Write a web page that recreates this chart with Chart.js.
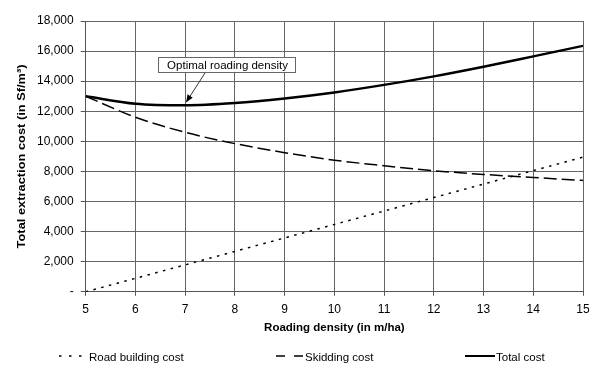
<!DOCTYPE html>
<html lang="en">
<head>
  <meta charset="UTF-8" />
  <title>Roading density</title>
  <style>
    * { box-sizing: border-box; margin: 0; padding: 0; }
    html, body { width: 600px; height: 368px; background: #fff; }
    #wrap { width: 600px; height: 368px; }
  </style>
  <script src="https://cdn.jsdelivr.net/npm/chart.js@4/dist/chart.umd.min.js"></script>
</head>
<body>
  <div id="wrap"><canvas id="chart"></canvas></div>
  <script>
    // roading density (m/ha)
    const density = [5, 6, 7, 8, 9, 10, 11, 12, 13, 14, 15];
    const roadCost = [0, 895, 1790, 2685, 3580, 4475, 5370, 6265, 7160, 8055, 8950];
    const skidCost = [13000, 11600, 10600, 9850, 9250, 8750, 8380, 8050, 7800, 7600, 7400];
    const totalCost = [13000, 12500, 12400, 12550, 12850, 13250, 13750, 14320, 14960, 15650, 16350];
    const yTicks = [0, 2000, 4000, 6000, 8000, 10000, 12000, 14000, 16000, 18000];
    const optimum = { x: 7, y: 12400, label: 'Optimal roading density' };
    const yTitle = 'Total extraction cost (in Sf/m³)';

    const FONT = 'Liberation Sans, Arial, sans-serif';
    Chart.defaults.font.family = FONT;
    Chart.defaults.color = '#000';

    const pts = arr => arr.map((v, i) => ({ x: density[i], y: v }));

    // callout box + arrow
    const callout = {
      id: 'callout',
      afterDatasetsDraw(chart) {
        const { ctx, scales } = chart;
        const tx = scales.x.getPixelForValue(optimum.x);
        const ty = scales.y.getPixelForValue(optimum.y);
        ctx.save();
        ctx.font = '11.5px ' + FONT;
        const bx = 158, by = 57, bw = 137, bh = 15;
        ctx.fillStyle = '#fff';
        ctx.fillRect(bx, by, bw, bh);
        ctx.strokeStyle = '#666';
        ctx.lineWidth = 1;
        ctx.strokeRect(bx + 0.5, by + 0.5, bw, bh);
        ctx.fillStyle = '#000';
        ctx.textBaseline = 'middle';
        ctx.textAlign = 'center';
        ctx.fillText(optimum.label, bx + bw / 2 + 1, by + bh / 2 + 1);
        // arrow
        const sx = 205, sy = by + bh + 1;
        const ex = tx + 1, ey = ty - 3;
        ctx.strokeStyle = '#333';
        ctx.beginPath();
        ctx.moveTo(sx, sy);
        ctx.lineTo(ex, ey);
        ctx.stroke();
        const ang = Math.atan2(ey - sy, ex - sx);
        ctx.fillStyle = '#000';
        ctx.beginPath();
        ctx.moveTo(ex, ey);
        ctx.lineTo(ex - 8 * Math.cos(ang - 0.4), ey - 8 * Math.sin(ang - 0.4));
        ctx.lineTo(ex - 8 * Math.cos(ang + 0.4), ey - 8 * Math.sin(ang + 0.4));
        ctx.closePath();
        ctx.fill();
        ctx.restore();
      }
    };

    // y title, stretched along its length like the original
    const stretchedTitle = {
      id: 'stretchedTitle',
      afterDraw(chart) {
        const { ctx, chartArea } = chart;
        ctx.save();
        ctx.font = 'bold 11px ' + FONT;
        const w = ctx.measureText(yTitle).width;
        ctx.translate(22, (chartArea.top + chartArea.bottom) / 2);
        ctx.rotate(-Math.PI / 2);
        ctx.scale(184 / w, 1);
        ctx.textAlign = 'center';
        ctx.textBaseline = 'middle';
        ctx.fillStyle = '#000';
        ctx.fillText(yTitle, 0, 0);
        ctx.restore();
      }
    };

    // legend spread across the bottom
    const legendSlots = [
      { x: 59, len: 23, text: 89, dash: [2.5, 7.5] },
      { x: 276, len: 27, text: 305, dash: [9, 9] },
      { x: 465, len: 30, text: 496, dash: [] }
    ];
    const spreadLegend = {
      id: 'spreadLegend',
      afterDraw(chart) {
        const { ctx } = chart;
        const y = 358;
        ctx.save();
        ctx.font = '11.5px ' + FONT;
        ctx.textBaseline = 'middle';
        chart.data.datasets.forEach((ds, i) => {
          const s = legendSlots[i];
          ctx.strokeStyle = '#000';
          ctx.lineWidth = i === 2 ? 2 : 1.5;
          ctx.setLineDash(s.dash);
          ctx.beginPath();
          ctx.moveTo(s.x, y - 2);
          ctx.lineTo(s.x + s.len, y - 2);
          ctx.stroke();
          ctx.setLineDash([]);
          ctx.fillStyle = '#000';
          ctx.fillText(ds.label, s.text, y);
        });
        ctx.restore();
      }
    };

    new Chart(document.getElementById('chart'), {
      type: 'line',
      data: {
        datasets: [
          { label: 'Road building cost', data: pts(roadCost), borderColor: '#000', backgroundColor: 'transparent',
            borderWidth: 1.5, borderDash: [2.5, 5.5], pointRadius: 0 },
          { label: 'Skidding cost', data: pts(skidCost), borderColor: '#000', backgroundColor: 'transparent',
            borderWidth: 1.5, borderDash: [13, 5], pointRadius: 0, cubicInterpolationMode: 'monotone' },
          { label: 'Total cost', data: pts(totalCost), borderColor: '#000', backgroundColor: 'transparent',
            borderWidth: 2.4, pointRadius: 0, cubicInterpolationMode: 'monotone' }
        ]
      },
      options: {
        animation: false,
        responsive: true,
        maintainAspectRatio: false,
        layout: { padding: { left: 30, right: 17, top: 21, bottom: 33 } },
        scales: {
          x: {
            type: 'linear', min: 5, max: 15,
            ticks: { stepSize: 1, font: { size: 12 }, padding: 7 },
            grid: { color: '#666', tickLength: 4, tickColor: '#555' },
            border: { color: '#555' },
            title: { display: true, text: 'Roading density (in m/ha)', font: { size: 11.5, weight: 'bold' }, padding: { top: -3, bottom: 0 } }
          },
          y: {
            min: 0, max: 18000,
            afterBuildTicks: axis => { axis.ticks = yTicks.map(v => ({ value: v })); },
            ticks: {
              autoSkip: false,
              font: { size: 12 }, padding: 7,
              callback: v => v === 0 ? '-' : v.toLocaleString('en-US')
            },
            grid: { color: '#666', tickLength: 5, tickColor: '#555' },
            border: { color: '#555' }
          }
        },
        plugins: {
          legend: { display: false },
          tooltip: { enabled: false }
        }
      },
      plugins: [callout, stretchedTitle, spreadLegend]
    });
  </script>
</body>
</html>
